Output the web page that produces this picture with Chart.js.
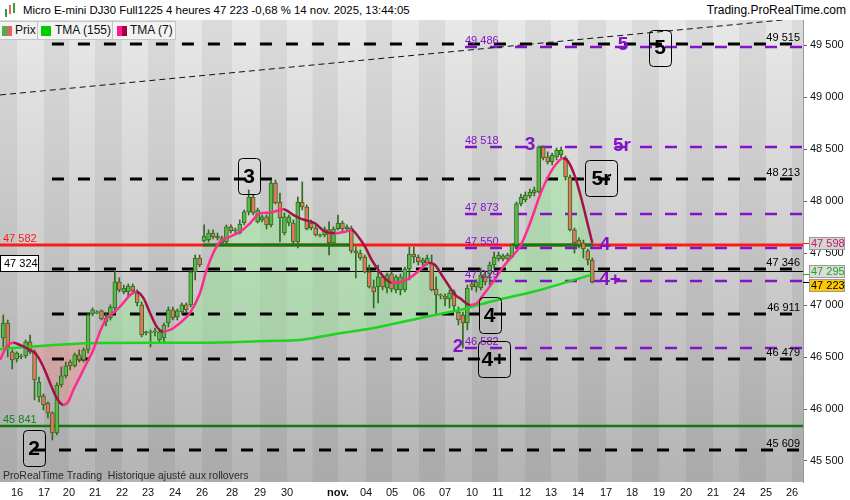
<!DOCTYPE html>
<html>
<head>
<meta charset="utf-8">
<title>Micro E-mini DJ30 Full1225 4 heures</title>
<script src="https://cdn.jsdelivr.net/npm/chart.js@4.4.1/dist/chart.umd.min.js"></script>
<style>
  html, body { margin: 0; padding: 0; background: #fff; }
  body { width: 850px; height: 500px; position: relative; overflow: hidden; font-family: "Liberation Sans", Arial, sans-serif; color: #111; }
  #header { position: absolute; left: 0; top: 0; width: 850px; height: 20px; background: #fff; font-size: 12px; line-height: 20px; color: #000; }
  #header .title { position: absolute; left: 23px; top: 0; font-size: 11.4px; }
  #header .site { position: absolute; right: 4px; top: 0; }
  .ico { position: absolute; top: 4px; width: 2px; background: #3c9a3c; }
  #legend { position: absolute; left: 0; top: 21px; height: 18px; font-size: 12px; }
  .lg { position: absolute; top: 0; height: 17px; line-height: 17px; background: #f3f3f3; border: 1px solid #c4c4c4; border-left: none; }
  .sw { position: absolute; top: 4px; width: 10px; height: 10px; }
  #wrap { position: absolute; left: 0; top: 20px; width: 850px; height: 480px; }
</style>
</head>
<body>
<div id="header">
  <span class="ico" style="left:5px;top:9px;height:8px"></span>
  <span class="ico" style="left:9px;top:5px;height:9px;background:#e06a5a"></span>
  <span class="ico" style="left:13px;top:3px;height:10px"></span>
  <span class="title">Micro E-mini DJ30 Full1225 4 heures 47 223 -0,68 % 14 nov. 2025, 13:44:05</span>
  <span class="site">Trading.ProRealTime.com</span>
</div>
<div id="wrap"><canvas id="chart" width="850" height="480"></canvas></div>
<div id="legend">
  <div class="lg" style="left:0;width:37px"><span class="sw" style="left:2px;width:5px;background:#4cb04c"></span><span class="sw" style="left:7px;width:5px;background:#e06464"></span><span style="position:absolute;left:15px">Prix</span></div>
  <div class="lg" style="left:38px;width:74px"><span class="sw" style="left:3px;background:#00cc00"></span><span style="position:absolute;left:17px">TMA (155)</span></div>
  <div class="lg" style="left:113px;width:62px"><span class="sw" style="left:4px;width:5px;background:#ff1a8c"></span><span class="sw" style="left:9px;width:5px;background:#a0004a"></span><span style="position:absolute;left:17px">TMA (7)</span></div>
</div>
<script>
// day ticks (in 4h-candle units), '31' exists but is not printed (no room before "nov.")
const dayLabels = ['16','17','20','21','22','23','24','26','28','29','30','31','nov.','04','05','06','07','10','11','12','13','14','17','18','19','20','21','24','25','26'];
const dayStart = [3.07, 9.12, 14.72, 20.55, 26.6, 32.43, 38.48, 44.53, 51.26, 57.53, 63.58, 69.3, 75.01, 81.29, 87.11, 93.16, 98.99, 105.04, 110.87, 116.92, 122.75, 128.8, 135.08, 140.9, 146.95, 153.0, 159.05, 164.88, 170.93, 176.76];
const yTicks = [45500, 46000, 46500, 47000, 47500, 48000, 48500, 49000, 49500];

// 4h candles
const open = [46683,46827,46549,46481,46500,46510,46645,46549,46116,46126,46058,45962,45770,46231,46318,46452,46414,46520,46472,46568,
  46914,46924,46943,46837,46875,46972,47222,47126,47126,47183,47116,47001,46731,46741,46741,46664,46683,46827,46953,46885,
  46933,47001,47001,47318,47452,47616,47625,47693,47664,47597,47606,47751,47712,47693,47789,47895,48039,47799,47818,47847,
  47770,48173,47991,47693,47789,47789,47606,47991,47943,47789,47741,47674,47674,47722,47597,47731,47789,47731,47741,47520,
  47500,47462,47318,47174,47174,47270,47164,47299,47145,47145,47145,47347,47491,47462,47404,47404,47404,47154,47097,47087,
  47058,47126,46933,46904,46827,47203,47174,47164,47280,47299,47385,47443,47472,47443,47462,47577,47972,48010,48048,48077,
  48087,48520,48424,48375,48424,48443,48414,48231,47722,47625,47597,47520,47433];
const high = [46904,46856,46568,46549,46529,46664,46712,46568,46308,46145,46068,45972,46251,46404,46452,46472,46539,46568,46587,46924,
  46972,46943,46953,46924,47001,47337,47261,47193,47203,47203,47145,47030,46750,46760,46779,46760,46827,46981,46981,46962,
  47020,47020,47337,47481,47481,47770,47722,47722,47693,47664,47770,47770,47741,47818,47914,48106,48058,47933,47866,47866,
  48202,48202,48077,47885,47866,47818,48039,48183,47962,47818,47770,47683,47751,47799,47751,47866,47808,47770,47760,47558,
  47529,47481,47385,47241,47385,47289,47308,47318,47289,47299,47366,47558,47558,47481,47452,47481,47481,47270,47107,47107,
  47145,47145,46981,46933,47193,47222,47241,47356,47318,47414,47510,47510,47491,47500,47587,47991,48068,48087,48116,48135,
  48530,48530,48472,48462,48510,48520,48433,48250,47741,47645,47625,47539,47452];
const low = [46597,46500,46385,46452,46481,46491,46529,46087,46068,45991,45914,45702,45751,46212,46299,46376,46404,46452,46452,46539,
  46895,46914,46856,46799,46856,46933,47126,47107,47087,47107,46991,46693,46712,46597,46702,46635,46645,46789,46856,46856,
  46914,46924,46981,47241,47366,47606,47606,47635,47625,47568,47587,47693,47693,47683,47770,47866,47866,47789,47799,47731,
  47751,47972,47606,47674,47760,47587,47549,47914,47722,47722,47664,47654,47654,47481,47578,47722,47712,47703,47500,47260,
  47433,47308,47164,46972,47020,47145,47116,47126,47116,47097,47126,47241,47405,47385,47375,47385,47135,46904,47058,46991,
  46972,46953,46808,46587,46760,47145,47126,47145,47193,47193,47356,47423,47423,47423,47452,47558,47952,47991,48029,48048,
  48077,48395,48356,48347,48395,48414,48202,47712,47500,47549,47452,47385,47212];
const close = [46827,46597,46472,46539,46510,46645,46549,46280,46260,46039,45962,45770,46231,46318,46414,46414,46520,46472,46568,46904,
  46953,46933,46866,46875,46981,47222,47145,47164,47183,47135,47020,46712,46741,46731,46750,46741,46808,46953,46876,46943,
  47001,46953,47318,47452,47385,47664,47693,47654,47645,47645,47751,47712,47722,47779,47895,48039,47885,47914,47847,47770,
  48173,47981,47837,47847,47847,47606,47991,47943,47731,47741,47674,47664,47731,47597,47731,47789,47731,47751,47520,47500,
  47452,47318,47174,47126,47270,47174,47289,47154,47270,47270,47347,47491,47462,47414,47433,47452,47145,47097,47087,47058,
  47116,46991,46856,46827,47164,47174,47222,47289,47222,47385,47462,47481,47443,47481,47577,47972,48039,48058,48087,48106,
  48520,48414,48375,48443,48491,48491,48231,47722,47597,47577,47539,47433,47223];

// moving averages (x in candle units)
const tma155X = [-0.74, 21.67, 44.08, 59.1, 66.49, 73.22, 84.42, 95.63, 103.0, 109.1, 120.28, 132];
const tma155 = [46577, 46635, 46638, 46654, 46664, 46712, 46792, 46895, 46959, 47032, 47145, 47295];
const tma7X = [-0.74, 0.76, 2.24, 3.74, 5.98, 7.49, 8.96, 10.47, 11.97, 13.45, 14.57, 15.69, 17.19, 18.69, 20.17, 21.67, 23.17, 25.03,
  26.89, 28.4, 29.9, 31.38, 32.88, 34.38, 35.86, 37.36, 39.6, 41.84, 44.08, 45.58, 47.06, 48.57, 50.81, 53.05, 55.29, 57.53, 59.77,
  62.75, 64.99, 66.49, 67.61, 69.85, 72.1, 74.34, 76.58, 78.08, 79.56, 81.06, 82.56, 84.04, 85.54, 87.05, 89.29, 91.53, 93.77, 95.25,
  96.75, 98.25, 99.73, 101.23, 102.35, 104.6, 106.1, 107.57, 109.81, 112.05, 114.3, 115.8, 118.04, 120.28, 122.52, 124.02, 125.5,
  126.62, 128.13, 129.63, 131.11, 132];
const tma7 = [46472, 46600, 46638, 46616, 46568, 46520, 46407, 46251, 46106, 46039, 46071, 46183, 46311, 46443, 46568, 46744, 46876, 46936,
  47020, 47097, 47128, 47068, 46924, 46792, 46744, 46760, 46827, 46924, 47116, 47337, 47500, 47609, 47657, 47705, 47786, 47882, 47888,
  47921, 47866, 47834, 47818, 47786, 47705, 47690, 47705, 47722, 47657, 47561, 47433, 47337, 47257, 47215, 47224, 47273, 47353, 47407,
  47385, 47289, 47193, 47097, 47065, 47001, 47017, 47097, 47225, 47369, 47481, 47561, 47786, 48058, 48267, 48363, 48411,
  48378, 48234, 48010, 47753, 47598];

// drawn levels and trend line
const trendX = [-0.74, 179.22];
const trendY = [49020, 49760];
const blackLevels = [49515, 48213, 47346, 46911, 46479, 45609];
const purpleLevels = [49486, 48518, 47873, 47550, 47229, 46582];
const redLevel = 47582;
const greenLevel = 45841;
const thinLevel = 47324;

// wave counts: [text, candle x, price]
const waveBoxes = [['2', 6.88, 45625], ['3', 55.07, 48236], ['4', 108.97, 46904], ['4+', 109.86, 46481], ['5r', 134.06, 48217], ['5', 147.17, 49476]];
const wavePurple = [['2', 101.9, 46597], ['3', 118.04, 48539], ['4', 134.85, 47577], ['4+', 135.97, 47241], ['5r', 138.66, 48529], ['5', 138.9, 49500]];

const FONT = '"Liberation Sans", Arial, sans-serif';
const PURPLE = '#8412c8';
const X_MIN = -0.74, X_MAX = 179.22;

function fmt(v) {
  return Math.round(v).toString().replace(/\B(?=(\d{3})+(?!\d))/g, ' ');
}

function hline(ctx, x0, x1, y, color, width, dash) {
  ctx.save();
  ctx.strokeStyle = color;
  ctx.lineWidth = width;
  ctx.setLineDash(dash || []);
  ctx.beginPath();
  ctx.moveTo(x0, y);
  ctx.lineTo(x1, y);
  ctx.stroke();
  ctx.restore();
}

function text(ctx, str, x, y, font, color, align, base) {
  ctx.save();
  ctx.font = font;
  ctx.fillStyle = color;
  ctx.textAlign = align || 'left';
  ctx.textBaseline = base || 'alphabetic';
  ctx.fillText(str, x, y);
  ctx.restore();
}

function roundRect(ctx, x, y, w, h, r) {
  ctx.beginPath();
  ctx.moveTo(x + r, y);
  ctx.lineTo(x + w - r, y);
  ctx.quadraticCurveTo(x + w, y, x + w, y + r);
  ctx.lineTo(x + w, y + h - r);
  ctx.quadraticCurveTo(x + w, y + h, x + w - r, y + h);
  ctx.lineTo(x + r, y + h);
  ctx.quadraticCurveTo(x, y + h, x, y + h - r);
  ctx.lineTo(x, y + r);
  ctx.quadraticCurveTo(x, y, x + r, y);
  ctx.closePath();
}

const overlay = {
  id: 'overlay',
  beforeDraw(chart) {
    const { ctx, chartArea: a, scales: { x } } = chart;
    const g = ctx.createLinearGradient(0, a.top, 0, a.bottom);
    g.addColorStop(0, '#e8e8e8');
    g.addColorStop(1, '#b4b4b4');
    ctx.save();
    ctx.fillStyle = g;
    ctx.fillRect(a.left, a.top, a.width, a.height);
    // alternate day bands
    ctx.fillStyle = 'rgba(0,0,0,0.055)';
    const edges = [X_MIN].concat(dayStart, [X_MAX]);
    for (let i = 0; i < edges.length - 1; i++) {
      if (i % 2 === 0) {
        const x0 = x.getPixelForValue(edges[i]);
        const x1 = x.getPixelForValue(edges[i + 1]);
        ctx.fillRect(x0, a.top, x1 - x0, a.height);
      }
    }
    ctx.restore();
  },
  beforeDatasetsDraw(chart) {
    const { ctx, chartArea: a, scales: { x, y } } = chart;
    const py = v => Math.round(y.getPixelForValue(v));
    ctx.save();
    ctx.beginPath();
    ctx.rect(a.left, a.top, a.width, a.height);
    ctx.clip();
    // thin black line
    hline(ctx, a.left, a.right, py(thinLevel) + 0.5, '#000', 1);
    // red level with green stretches
    hline(ctx, a.left, a.right, py(redLevel), '#ff1a1a', 3);
    [[44.75, 78.15], [114.0, 132.2]].forEach(s => {
      hline(ctx, x.getPixelForValue(s[0]), x.getPixelForValue(s[1]), py(redLevel), '#127a12', 3);
    });
    // green level
    hline(ctx, a.left, a.right, py(greenLevel), '#0f7a0f', 2.5);
    hline(ctx, x.getPixelForValue(10.9), x.getPixelForValue(12.3), py(greenLevel), '#ff1a1a', 2.5);
    // black dashed levels
    blackLevels.forEach((v, i) => {
      const start = i === blackLevels.length - 1 ? 6.66 : 10.9;
      hline(ctx, x.getPixelForValue(start), 800, py(v), '#000', 3, [12, 14]);
    });
    // purple dashed levels
    purpleLevels.forEach(v => {
      hline(ctx, x.getPixelForValue(103.47), a.right, py(v), PURPLE, 2.5, [12, 13]);
    });
    ctx.restore();
  },
  afterDraw(chart) {
    const { ctx, chartArea: a, scales: { x, y } } = chart;
    const py = v => Math.round(y.getPixelForValue(v));
    const small = '11px ' + FONT;

    // level labels
    blackLevels.forEach(v => text(ctx, fmt(v), 800, py(v) - 3, small, '#000', 'right'));
    purpleLevels.forEach(v => text(ctx, fmt(v), x.getPixelForValue(103.47), py(v) - 3, small, PURPLE, 'left'));
    text(ctx, fmt(redLevel), 3, py(redLevel) - 3, small, '#ff1a1a');
    text(ctx, fmt(greenLevel), 3, py(greenLevel) - 3, small, '#11801a');
    const ty = py(thinLevel);
    ctx.save();
    ctx.fillStyle = '#fff';
    ctx.fillRect(0, ty - 16, 38, 16);
    ctx.strokeStyle = '#000';
    ctx.lineWidth = 1;
    ctx.strokeRect(0.5, ty - 15.5, 38, 16);
    ctx.restore();
    text(ctx, fmt(thinLevel), 4, ty - 4, small, '#000');

    // purple wave counts
    wavePurple.forEach(w => {
      text(ctx, w[0], x.getPixelForValue(w[1]), y.getPixelForValue(w[2]), 'bold 19px ' + FONT, PURPLE, 'center', 'middle');
    });
    // boxed wave counts
    waveBoxes.forEach(w => {
      const cx = x.getPixelForValue(w[1]);
      const cy = y.getPixelForValue(w[2]);
      const bw = w[0].length > 1 ? 32 : 22;
      ctx.save();
      roundRect(ctx, Math.round(cx - bw / 2) + 0.5, Math.round(cy - 18) + 0.5, bw, 36, 4);
      ctx.strokeStyle = '#000';
      ctx.lineWidth = 1;
      ctx.stroke();
      ctx.restore();
      text(ctx, w[0], cx, cy + 1, 'bold 21px ' + FONT, '#000', 'center', 'middle');
    });

    // last values on the price axis
    const tags = [
      { v: tma7[tma7.length - 1], color: '#c01862', fill: '#d4d4d4', tick: '#ff1a1a' },
      { v: tma155[tma155.length - 1], color: '#1aa81a', fill: '#dcdcdc', tick: '#1aa81a' },
      { v: close[close.length - 1], color: '#000', fill: '#ffc800', tick: '#000' }
    ];
    tags.forEach(t => { t.y = y.getPixelForValue(t.v); });
    for (let i = 1; i < tags.length; i++) {
      const gap = tags[i].y - tags[i - 1].y;
      if (gap < 14) {
        const d = (14 - gap) / 2;
        tags[i - 1].y -= d;
        tags[i].y += d;
      }
    }
    tags.forEach(t => {
      const top = Math.round(t.y - 6);
      ctx.save();
      ctx.fillStyle = t.fill;
      ctx.fillRect(809, top, 36, 12);
      ctx.strokeStyle = '#9a9a9a';
      ctx.lineWidth = 1;
      ctx.strokeRect(809.5, top + 0.5, 35, 12);
      ctx.restore();
      hline(ctx, a.right, 809, Math.round(y.getPixelForValue(t.v)) + 0.5, t.tick, 1);
      text(ctx, fmt(t.v), 811, top + 6.5, small, t.color, 'left', 'middle');
    });

    // footer note
    text(ctx, 'ProRealTime Trading  Historique ajusté aux rollovers', 3, a.bottom - 3, '10.5px ' + FONT, '#2a2a2a');
  }
};

const candleColor = open.map((o, i) => close[i] >= o ? '#5ab84c' : '#e8765f');

new Chart(document.getElementById('chart'), {
  type: 'line',
  data: {
    datasets: [
      {
        type: 'bar',
        data: open.map((o, i) => ({ x: i, y: [low[i], high[i]] })),
        backgroundColor: '#2f6a1e',
        barThickness: 1,
        grouped: false,
        order: 4
      },
      {
        type: 'bar',
        data: open.map((o, i) => ({ x: i, y: [o, close[i]] })),
        backgroundColor: candleColor,
        borderColor: '#2f6a1e',
        borderWidth: 1,
        borderSkipped: false,
        barThickness: 4,
        minBarLength: 1,
        grouped: false,
        order: 3
      },
      {
        data: tma155X.map((v, i) => ({ x: v, y: tma155[i] })),
        borderColor: '#1ed41e',
        borderWidth: 2.5,
        pointRadius: 0,
        tension: 0.4,
        cubicInterpolationMode: 'monotone',
        fill: false,
        order: 2
      },
      {
        data: tma7X.map((v, i) => ({ x: v, y: tma7[i] })),
        borderColor: '#ff2b8f',
        segment: {
          borderColor: c => c.p1.parsed.y >= c.p0.parsed.y ? '#ff2b8f' : '#a5104c'
        },
        borderWidth: 2.5,
        pointRadius: 0,
        cubicInterpolationMode: 'monotone',
        fill: { target: 2, above: 'rgba(150, 235, 150, 0.45)', below: 'rgba(240, 140, 140, 0.45)' },
        order: 1
      },
      {
        data: trendX.map((v, i) => ({ x: v, y: trendY[i] })),
        borderColor: '#111',
        borderWidth: 1,
        borderDash: [6, 4],
        pointRadius: 0,
        fill: false,
        order: 0
      }
    ]
  },
  options: {
    responsive: false,
    animation: false,
    layout: { padding: 0 },
    plugins: {
      legend: { display: false },
      tooltip: { enabled: false },
      filler: { drawTime: 'beforeDatasetsDraw' }
    },
    scales: {
      x: {
        type: 'linear',
        min: X_MIN,
        max: X_MAX,
        offset: false,
        afterBuildTicks: s => { s.ticks = dayStart.map(v => ({ value: v })); },
        afterFit: s => { s.height = 18; s.paddingLeft = 0; s.paddingRight = 0; },
        ticks: {
          autoSkip: false,
          maxRotation: 0,
          padding: 4,
          color: '#111',
          callback: (v, i) => dayLabels[i] === '31' ? '' : dayLabels[i],
          font: c => ({ family: FONT, size: 11, weight: dayLabels[c.index] === 'nov.' ? 'bold' : 'normal' })
        },
        grid: { display: false, drawTicks: false },
        border: { display: false }
      },
      y: {
        position: 'right',
        min: 45298,
        max: 49741,
        afterBuildTicks: s => { s.ticks = yTicks.map(v => ({ value: v })); },
        afterFit: s => { s.width = 47; s.paddingTop = 0; s.paddingBottom = 0; },
        ticks: { padding: 3, color: '#111', font: { family: FONT, size: 11 }, callback: v => fmt(v) },
        grid: { drawOnChartArea: false, drawTicks: true, tickLength: 4, color: '#666' },
        border: { display: true, color: '#9a9a9a' }
      }
    }
  },
  plugins: [overlay]
});
</script>
</body>
</html>
